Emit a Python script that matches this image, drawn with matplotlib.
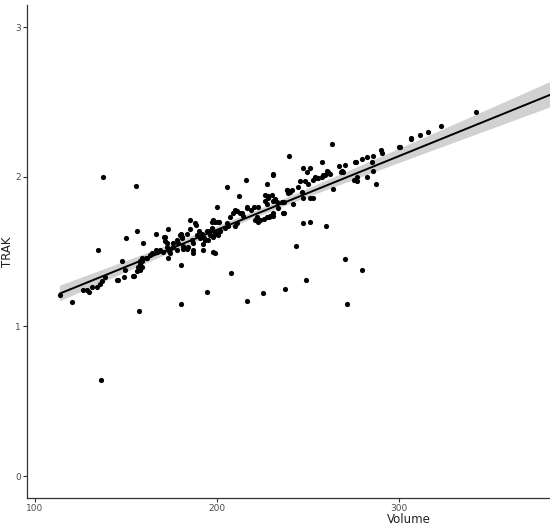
import numpy as np
import matplotlib
matplotlib.use("Agg")
import matplotlib.pyplot as plt

# 점 데이터 (Volume, TRAK) - 그림에서 읽은 값
volume = [
    113.7, 120.3, 126.4, 128.6, 129.7, 131.3, 134.1, 135.7, 136.8, 138.5,
    145.1, 148.9, 153.8, 156.0, 156.6, 157.7, 158.8, 149.5, 134.6, 137.4,
    155.5, 136.3, 157.1, 180.2, 194.5, 207.7, 216.5, 225.3, 180.2, 237.4,
    248.9, 271.4, 279.7, 243.4, 270.3, 247.3, 251.1, 259.9, 287.4, 342.3,
    323.1, 316.0, 311.5, 306.6, 306.9, 300.0, 290.1, 290.7, 263.2, 239.6,
    154.4, 157.7, 158.8, 161.0, 163.2, 167.0, 168.7, 170.9, 171.4, 173.1,
    172.5, 173.1, 150.0, 156.0, 159.3, 166.5, 147.8, 145.6,
    205.5, 215.9, 227.5, 230.8, 212.1, 200.0, 185.2, 187.9,
    197.3, 201.1, 196.2, 192.9, 190.1, 207.1, 208.8, 211.0, 213.7, 216.5,
    218.7, 220.9, 222.5, 225.8, 228.6, 226.4, 228.0, 230.2, 230.8, 230.8,
    205.5, 209.9, 211.0, 198.9, 200.5, 197.8, 201.6, 183.5, 179.7, 180.8,
    178.6, 181.3, 183.5, 186.3, 189.0, 186.8, 175.8, 173.1, 174.2, 170.3,
    166.5, 164.3, 161.5, 158.8, 157.7, 198.9, 192.3, 195.1,
    226.4, 228.0, 227.5, 231.9, 238.5, 239.0, 236.3, 233.5, 233.0, 216.5,
    220.3, 222.5, 222.0, 223.6, 227.5, 229.1, 230.8, 209.9, 212.6, 214.3,
    206.0, 197.8, 198.9, 200.5, 197.3, 194.5, 191.8, 188.5, 185.2, 180.2,
    180.8, 178.0, 175.8, 171.4, 172.5, 174.2, 178.0, 181.3, 184.1, 186.8,
    190.7, 193.4, 196.2, 198.9, 201.6, 204.4, 186.8, 192.3, 197.8, 236.8,
    236.8,
    247.3, 251.1, 249.5, 267.0, 270.3, 269.2, 276.4, 279.7, 282.4, 285.7,
    300.5, 285.2, 260.4, 262.1, 259.3, 257.7, 254.9, 252.7, 253.8, 245.6,
    248.4, 250.0, 241.2, 238.5, 240.1, 244.5, 246.7, 251.1, 252.7, 247.3,
    263.7, 275.8, 276.9, 282.4, 268.7, 235.7, 241.8,
    275.8, 257.7, 285.7, 275.3, 268.1, 261.0, 258.2, 255.5, 277.0, 230.8,
]
trak = [
    1.21, 1.16, 1.24, 1.24, 1.23, 1.26, 1.26, 1.28, 1.30, 1.33,
    1.31, 1.33, 1.34, 1.37, 1.40, 1.38, 1.40, 1.38, 1.51, 2.00,
    1.94, 0.64, 1.10, 1.15, 1.23, 1.36, 1.17, 1.22, 1.41, 1.25,
    1.31, 1.15, 1.38, 1.54, 1.45, 1.69, 1.70, 1.67, 1.95, 2.43,
    2.34, 2.30, 2.28, 2.26, 2.25, 2.20, 2.18, 2.16, 2.22, 2.14,
    1.34, 1.42, 1.44, 1.46, 1.48, 1.50, 1.51, 1.60, 1.57, 1.65,
    1.53, 1.46, 1.59, 1.64, 1.56, 1.62, 1.44, 1.31,
    1.93, 1.98, 1.95, 2.01, 1.87, 1.80, 1.71, 1.69,
    1.70, 1.70, 1.64, 1.59, 1.64, 1.73, 1.76, 1.77, 1.76, 1.79,
    1.78, 1.71, 1.70, 1.72, 1.73, 1.84, 1.87, 1.88, 1.84, 1.74,
    1.69, 1.67, 1.69, 1.62, 1.61, 1.60, 1.64, 1.62, 1.61, 1.59,
    1.56, 1.54, 1.52, 1.58, 1.61, 1.51, 1.53, 1.51, 1.49, 1.50,
    1.51, 1.49, 1.46, 1.46, 1.44, 1.49, 1.55, 1.58,
    1.88, 1.86, 1.82, 1.85, 1.91, 1.89, 1.76, 1.79, 1.83, 1.80,
    1.80, 1.80, 1.73, 1.71, 1.73, 1.74, 1.76, 1.78, 1.76, 1.74,
    1.67, 1.71, 1.70, 1.70, 1.66, 1.64, 1.62, 1.68, 1.65, 1.62,
    1.60, 1.58, 1.56, 1.60, 1.56, 1.52, 1.51, 1.52, 1.53, 1.56,
    1.59, 1.58, 1.61, 1.63, 1.64, 1.66, 1.49, 1.51, 1.50, 1.76,
    1.83,
    2.06, 2.06, 2.03, 2.07, 2.08, 2.03, 2.10, 2.12, 2.13, 2.14,
    2.20, 2.10, 2.04, 2.02, 2.01, 2.00, 1.99, 1.98, 2.00, 1.97,
    1.97, 1.95, 1.91, 1.91, 1.90, 1.93, 1.90, 1.86, 1.86, 1.86,
    1.92, 1.98, 1.97, 2.00, 2.04, 1.83, 1.82,
    2.10, 2.10, 2.04, 1.98, 2.03, 2.03, 2.01, 1.99, 2.00, 2.02,
]

x = np.array(volume)
y = np.array(trak)

# 선형회귀 + 95% 신뢰구간 (geom_smooth(method="lm") 처럼)
n = len(x)
slope, intercept = np.polyfit(x, y, 1)
resid = y - (intercept + slope * x)
s = np.sqrt(np.sum(resid ** 2) / (n - 2))
sxx = np.sum((x - x.mean()) ** 2)
xs = np.linspace(x.min(), 515, 200)
fit = intercept + slope * xs
se = s * np.sqrt(1.0 / n + (xs - x.mean()) ** 2 / sxx)
band = 1.97 * se

fig = plt.figure(figsize=(5.5, 5.27), dpi=100)
# 원본 그림이 오른쪽에서 잘려 있어서 축이 그림 밖까지 이어짐
ax = fig.add_axes([0.049, 0.055, 1.389, 0.935])

ax.fill_between(xs, fit - band, fit + band, color="#999999", alpha=0.45, linewidth=0)
ax.plot(xs, fit, color="black", linewidth=1.4)
ax.scatter(x, y, s=14, color="black", linewidths=0, zorder=3)

ax.set_xlim(95.6, 515.4)
ax.set_ylim(-0.147, 3.146)
ax.set_xticks([100, 200, 300])
ax.set_yticks([0, 1, 2, 3])

for side in ["top", "right"]:
    ax.spines[side].set_visible(False)
for side in ["left", "bottom"]:
    ax.spines[side].set_color("#333333")
    ax.spines[side].set_linewidth(0.9)

ax.tick_params(axis="both", direction="out", length=3, width=0.8, color="#333333",
               labelsize=6.5, labelcolor="#4d4d4d", pad=1.5)

ax.set_xlabel("Volume", fontsize=8.5, color="#222222", labelpad=0)
ax.set_ylabel("TRAK", fontsize=8.5, color="#222222", labelpad=1)

plt.savefig("out.png", dpi=100)
